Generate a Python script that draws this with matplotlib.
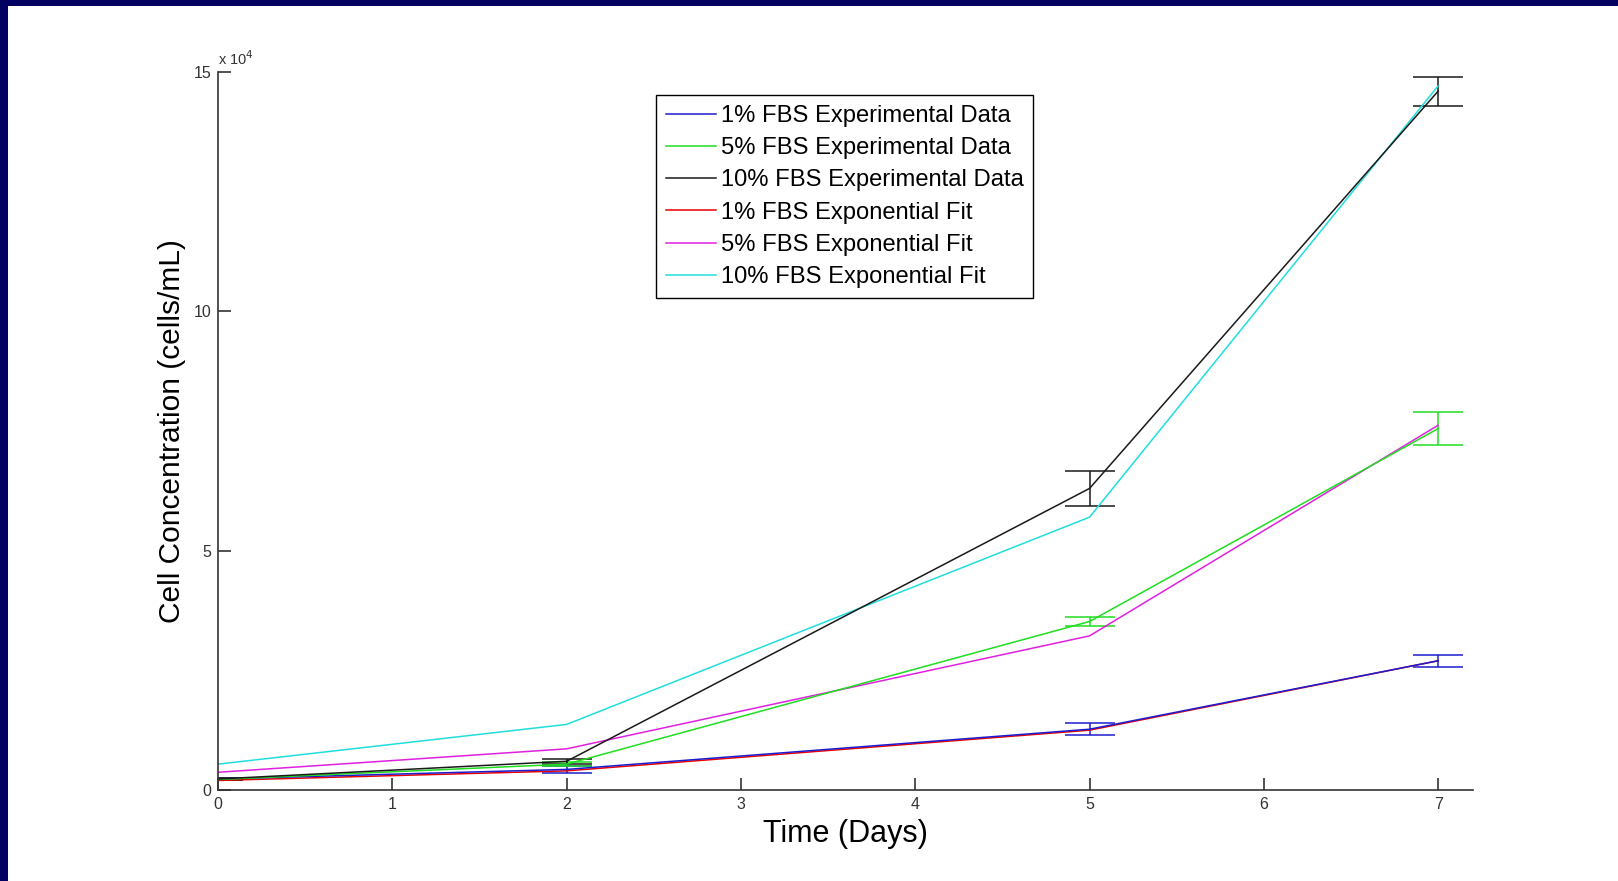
import matplotlib.pyplot as plt
from matplotlib.patches import Rectangle
from matplotlib.ticker import FuncFormatter

plt.rcParams['font.family'] = ['Liberation Sans', 'DejaVu Sans']

# time points (days)
days = [0, 2, 5, 7]

# experimental data, cells/mL
exp_1 = [2300, 4300, 12700, 27000]
exp_5 = [2200, 5400, 35200, 75500]
exp_10 = [2300, 6000, 63000, 146000]
err_1 = [300, 800, 1300, 1200]
err_5 = [200, 400, 900, 3500]
err_10 = [200, 500, 3600, 3000]

# exponential fits, cells/mL
fit_1 = [2000, 4000, 12500, 27000]
fit_5 = [3700, 8600, 32200, 76200]
fit_10 = [5400, 13700, 57000, 147100]

labels = ["1% FBS Experimental Data",
          "5% FBS Experimental Data",
          "10% FBS Experimental Data",
          "1% FBS Exponential Fit",
          "5% FBS Exponential Fit",
          "10% FBS Exponential Fit"]
colors = ['#1c1cd0', '#20dd20', '#1a1a1a', '#e80000', '#e020e0', '#20dede']

fig = plt.figure(figsize=(16.18, 8.81), dpi=100)
fig.patch.set_facecolor('white')

# slide border (top and left)
fig.patches.append(Rectangle((0, 1 - 6 / 881), 1, 6 / 881, transform=fig.transFigure,
                             facecolor='#020060', edgecolor='none', zorder=0))
fig.patches.append(Rectangle((0, 0), 8 / 1618, 1, transform=fig.transFigure,
                             facecolor='#020060', edgecolor='none', zorder=0))

ax = fig.add_axes([218 / 1618, 91 / 881, 1255 / 1618, 718 / 881])

exp_sets = [(exp_1, err_1), (exp_5, err_5), (exp_10, err_10)]
handles = []
for (vals, errs), c, lab in zip(exp_sets, colors[:3], labels[:3]):
    ax.errorbar(days, vals, yerr=errs, color=c, lw=1.1, capsize=18,
                capthick=1.1, elinewidth=1.1)
    h, = ax.plot([], [], color=c, lw=1.1, label=lab)
    handles.append(h)

for vals, c, lab in zip([fit_1, fit_5, fit_10], colors[3:], labels[3:]):
    h, = ax.plot(days, vals, color=c, lw=1.1, label=lab)
    handles.append(h)

ax.set_xlim(0, 7.2)
ax.set_ylim(0, 150000)
ax.set_xticks(range(8))
ax.set_yticks([0, 50000, 100000, 150000])
ax.yaxis.set_major_formatter(FuncFormatter(lambda v, p: f"{v / 1e4:g}"))

for s in ['top', 'right']:
    ax.spines[s].set_visible(False)
for s in ['left', 'bottom']:
    ax.spines[s].set_color('#333333')
    ax.spines[s].set_linewidth(1.2)
ax.tick_params(direction='in', length=9, width=1.2, color='#333333',
               labelsize=11.5, labelcolor='#333333', pad=5)

ax.text(0.0, 1.006, r"x 10$^4$", transform=ax.transAxes, fontsize=10.5,
        color='#333333', ha='left', va='bottom')

ax.set_xlabel("Time (Days)", fontsize=22, labelpad=5)
ax.set_ylabel("Cell Concentration (cells/mL)", fontsize=21.5, labelpad=5)

leg = ax.legend(handles=handles, loc='upper left',
                bbox_to_anchor=(656 / 1618, 1 - 95 / 881),
                bbox_transform=fig.transFigure, fontsize=17.1,
                frameon=True, fancybox=False, framealpha=1,
                edgecolor='black', handlelength=2.1, handletextpad=0.2,
                labelspacing=0.43, borderpad=0.42, borderaxespad=0)
leg.get_frame().set_linewidth(1.0)

fig.savefig("out.png", dpi=100)
